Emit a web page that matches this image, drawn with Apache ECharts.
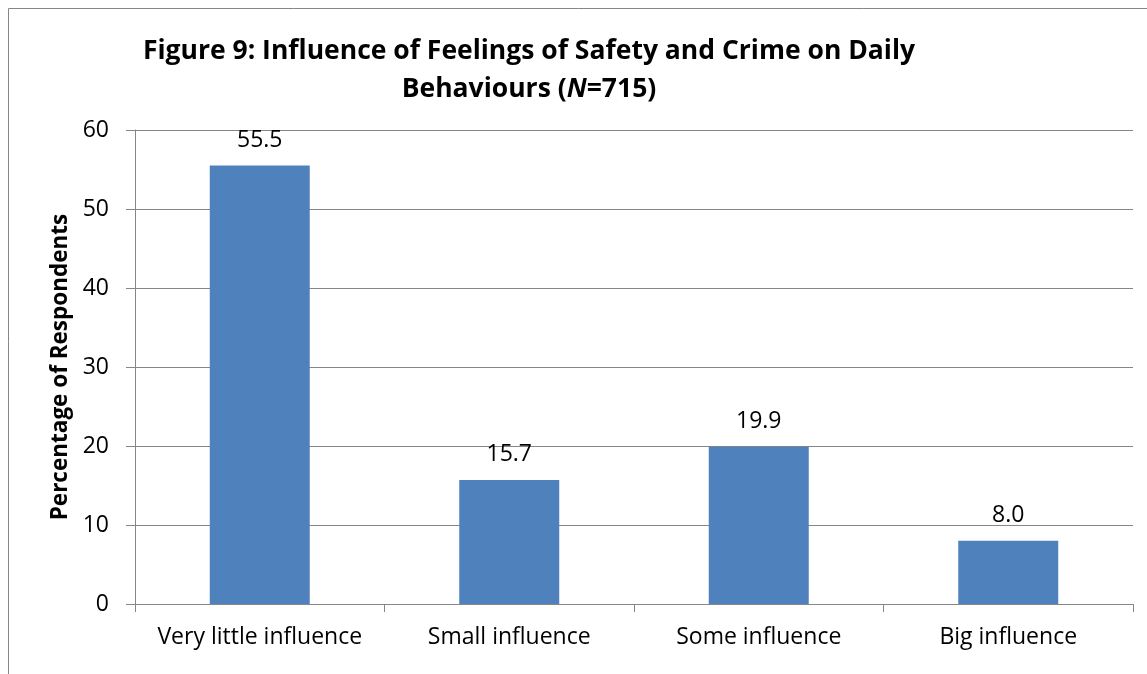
<!DOCTYPE html>
<html>
<head>
<meta charset="utf-8">
<script src="https://cdn.jsdelivr.net/npm/echarts@6/dist/echarts.min.js"></script>
<style>html,body{margin:0;padding:0;background:#fff;}#c{width:1147px;height:674px;}</style>
</head>
<body>
<div id="c"></div>
<script>
const categories = ['Very little influence', 'Small influence', 'Some influence', 'Big influence'];
const values = [55.5, 15.7, 19.9, 8.0];
const yTicks = [0, 10, 20, 30, 40, 50, 60];

const chart = echarts.init(document.getElementById('c'), null, {renderer: 'canvas'});
const FONT = '"Open Sans", Lato, sans-serif';
chart.setOption({
  animation: false,
  backgroundColor: '#fff',
  title: {
    text: 'Figure 9: Influence of Feelings of Safety and Crime on Daily\nBehaviours ({i|N}=715)',
    left: 524, top: 27, textAlign: 'center',
    textStyle: {
      fontFamily: FONT, fontSize: 26.5, fontWeight: 'bold', color: '#000', lineHeight: 38,
      rich: { i: { fontFamily: FONT, fontSize: 26.5, fontWeight: 'bold', fontStyle: 'italic', color: '#000', lineHeight: 38 } }
    }
  },
  graphic: [{
    type: 'rect', shape: {x: 8.5, y: 8.5, width: 1160, height: 700},
    style: {fill: 'none', stroke: '#868686', lineWidth: 1}, silent: true, z: -1
  }],
  grid: {left: 135, right: 14, top: 130, bottom: 70},
  xAxis: {
    type: 'category', data: categories,
    axisLine: {lineStyle: {color: '#868686', width: 1}},
    axisTick: {show: true, interval: 0, alignWithLabel: false, length: 8, lineStyle: {color: '#868686'}},
    axisLabel: {interval: 0, color: '#000', fontFamily: FONT, fontSize: 23, margin: 22}
  },
  yAxis: {
    type: 'value', min: 0, max: yTicks[yTicks.length - 1], interval: 10,
    name: 'Percentage of Respondents', nameLocation: 'middle', nameGap: 63, nameRotate: 90,
    nameTextStyle: {color: '#000', fontFamily: FONT, fontSize: 22.5, fontWeight: 'bold'},
    axisLine: {show: true, lineStyle: {color: '#868686', width: 1}},
    axisTick: {show: true, length: 9, lineStyle: {color: '#868686'}},
    splitLine: {lineStyle: {color: '#868686', width: 1}},
    axisLabel: {color: '#000', fontFamily: FONT, fontSize: 23, margin: 26}
  },
  series: [{
    type: 'bar', data: values, barWidth: 100,
    itemStyle: {color: '#4F81BD'},
    label: {show: true, position: 'top', distance: 14, color: '#000', fontFamily: FONT, fontSize: 23,
      formatter: p => p.value.toFixed(1)}
  }]
});
</script>
</body>
</html>
